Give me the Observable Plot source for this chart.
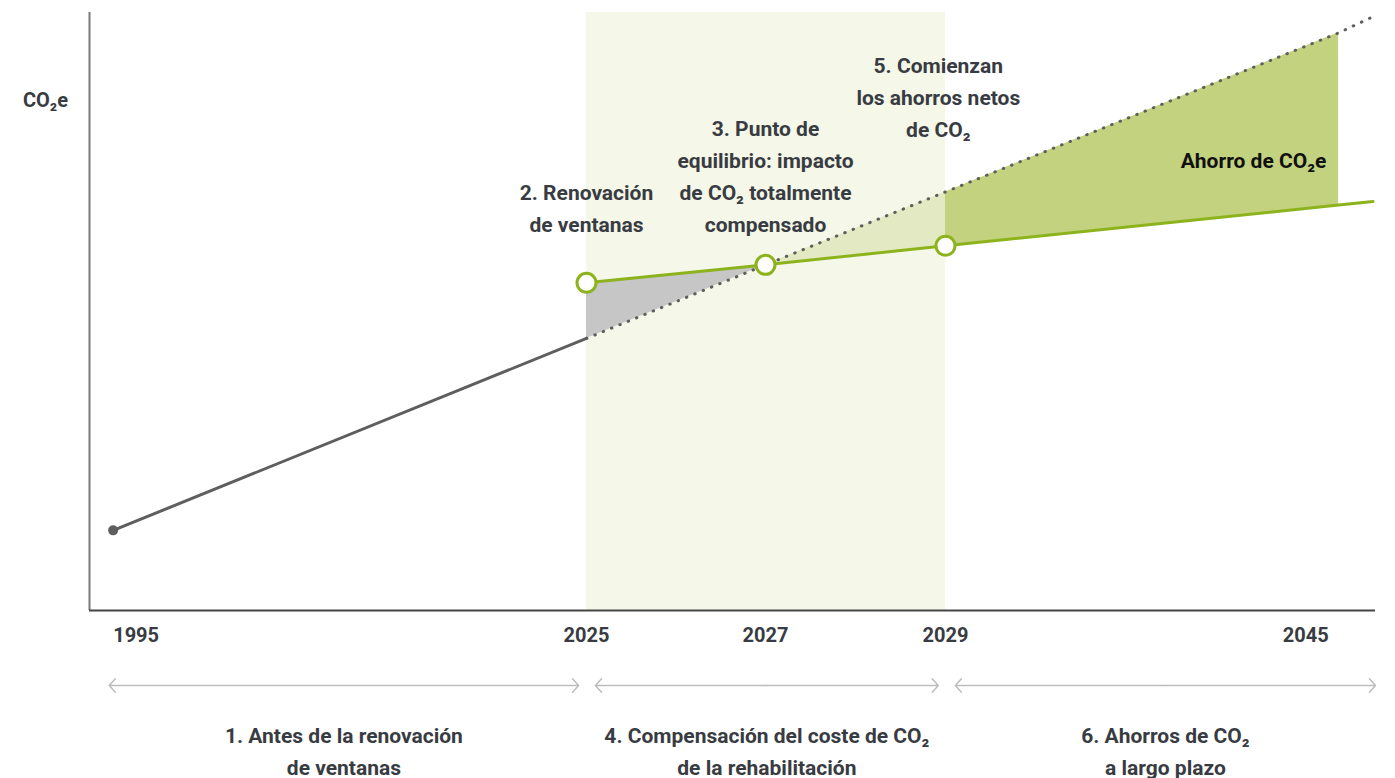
<!DOCTYPE html>
<html>
<head>
<meta charset="utf-8">
<script src="https://cdn.jsdelivr.net/npm/d3@7"></script>
<script src="https://cdn.jsdelivr.net/npm/@observablehq/plot@0.6"></script>
<style>
  html, body { margin: 0; padding: 0; background: #fff; }
  #chart svg { display: block; }
</style>
</head>
<body>
<div id="chart"></div>
<script>
// ---- data (arbitrary CO2e units) ----
const tickYears = [1995, 2025, 2027, 2029, 2045];

const beforeYears = [1995, 2025];
const beforeValues = [13.4, 45.5];

const projectionYears = [2025, 2027, 2029, 2045, 2046.5];
const projectionValues = [45.5, 57.8, 70.0, 96.6, 99.5];

const renovatedYears = [2025, 2027, 2029, 2045, 2046.4];
const renovatedValues = [54.8, 57.8, 61.0, 67.8, 68.4];

const milestoneYears = [2025, 2027, 2029];

const annotationYears = [2025, 2027, 2028.92];
const annotationValues = [67.7, 73.0, 86.3];
const annotationLabels = [
  "2. Renovación\nde ventanas",
  "3. Punto de\nequilibrio: impacto\nde CO₂ totalmente\ncompensado",
  "5. Comienzan\nlos ahorros netos\nde CO₂"
];

const savingsLabel = "Ahorro de CO₂e";
const savingsYear = 2044.5;
const savingsValue = 75.2;

const phaseStarts = [1994.75, 2025.1, 2029.4];
const phaseEnds = [2024.5, 2028.92, 2046.5];
const phaseLabels = [
  "1. Antes de la renovación\nde ventanas",
  "4. Compensación del coste de CO₂\nde la rehabilitación",
  "6. Ahorros de CO₂\na largo plazo"
];

const bandStart = 2025, bandEnd = 2029;
const yLabel = "CO₂e";

// The time axis is not linear: each period gets its own stretch of the axis.
const axisBreaks = [1993.5, 2025, 2027, 2029, 2046.5];
const axisStretch = [0, 497, 676, 856, 1286];
const pos = d3.scaleLinear().domain(axisBreaks).range(axisStretch);

// ---- derived tables ----
const projAt = y => projectionValues[projectionYears.indexOf(y)];
const renAt = y => renovatedValues[renovatedYears.indexOf(y)];
const seg = (a, b) => [a, b].map(yr => ({t: pos(yr), proj: projAt(yr), ren: renAt(yr)}));
const graySeg = seg(2025, 2027);
const lightSeg = seg(2027, 2029);
const darkSeg = seg(2029, 2045);

const before = beforeYears.map((y, i) => ({t: pos(y), v: beforeValues[i]}));
const projection = projectionYears.map((y, i) => ({t: pos(y), v: projectionValues[i]}));
const renovated = renovatedYears.map((y, i) => ({t: pos(y), v: renovatedValues[i]}));
const milestones = milestoneYears.map(y => ({t: pos(y), v: renAt(y)}));
const annotations = annotationLabels.map((s, i) => ({t: pos(annotationYears[i]), v: annotationValues[i], label: s}));
const phases = phaseLabels.map((s, i) => ({mid: (pos(phaseStarts[i]) + pos(phaseEnds[i])) / 2, label: s}));
const phaseArrows = phaseLabels.flatMap((s, i) => {
  const a = pos(phaseStarts[i]), b = pos(phaseEnds[i]), m = (a + b) / 2;
  return [{from: m, to: a}, {from: m, to: b}];
});
const ticks = tickYears.map(y => ({t: pos(y), label: String(y)}));

const textColor = "#383c42";
const font = "Roboto, 'Open Sans', sans-serif";
const green = "#8db31c";
const grayLine = "#5e5e5e";
const fs = 21;

const chart = Plot.plot({
  width: 1395,
  height: 778,
  marginTop: 12,
  marginBottom: 168,
  marginLeft: 89,
  marginRight: 20,
  style: {fontFamily: font, background: "#fff", overflow: "visible"},
  x: {domain: [axisStretch[0], axisStretch[axisStretch.length - 1]], axis: null},
  y: {domain: [0, 100], axis: null},
  marks: [
    // compensation band
    Plot.rect([{x1: pos(bandStart), x2: pos(bandEnd)}], {x1: "x1", x2: "x2", y1: 0, y2: 100, fill: "#f5f7e8"}),
    // areas
    Plot.areaY(graySeg, {x: "t", y1: "proj", y2: "ren", fill: "#c6c6c6"}),
    Plot.areaY(lightSeg, {x: "t", y1: "ren", y2: "proj", fill: "#e3eac3"}),
    Plot.areaY(darkSeg, {x: "t", y1: "ren", y2: "proj", fill: "#c3d27e"}),
    // axes lines
    Plot.ruleX([0], {y1: 0, y2: 100, stroke: "#7a7a7a", strokeWidth: 2}),
    Plot.ruleY([0], {stroke: "#454545", strokeWidth: 2}),
    // lines
    Plot.line(projection, {x: "t", y: "v", stroke: grayLine, strokeWidth: 3, strokeDasharray: "0.5,8.5", strokeLinecap: "round"}),
    Plot.line(before, {x: "t", y: "v", stroke: grayLine, strokeWidth: 3}),
    Plot.dot(before.slice(0, 1), {x: "t", y: "v", r: 5, fill: grayLine, stroke: "none"}),
    Plot.line(renovated, {x: "t", y: "v", stroke: green, strokeWidth: 3}),
    Plot.dot(milestones, {x: "t", y: "v", r: 9.5, fill: "#fff", stroke: green, strokeWidth: 3}),
    // annotations
    Plot.text(annotations, {x: "t", y: "v", text: "label", fontSize: fs, fontWeight: 700, fill: textColor, lineHeight: 32 / fs, lineAnchor: "middle"}),
    Plot.text([savingsLabel], {x: pos(savingsYear), y: savingsValue, text: d => d, textAnchor: "end", fontSize: fs, fontWeight: 700, fill: "#111"}),
    // y label
    Plot.text([yLabel], {frameAnchor: "left", y: 85.3, text: d => d, dx: -44, textAnchor: "middle", fontSize: 20, fontWeight: 700, fill: textColor}),
    // tick labels
    Plot.text(ticks.slice(0, 1), {x: "t", y: 0, text: "label", dy: 25, textAnchor: "start", fontSize: 20, fontWeight: 700, fill: textColor}),
    Plot.text(ticks.slice(1, 4), {x: "t", y: 0, text: "label", dy: 25, fontSize: 20, fontWeight: 700, fill: textColor}),
    Plot.text(ticks.slice(4), {x: "t", y: 0, text: "label", dy: 25, dx: -10, textAnchor: "end", fontSize: 20, fontWeight: 700, fill: textColor}),
    // phase arrows
    Plot.arrow(phaseArrows, {x1: "from", x2: "to", y1: 0, y2: 0, dy: 75, stroke: "#bdbdbd", strokeWidth: 1.5, headAngle: 95, headLength: 9}),
    Plot.text(phases, {x: "mid", y: 0, text: "label", dy: 138, fontSize: fs, fontWeight: 700, fill: textColor, lineHeight: 32 / fs, lineAnchor: "middle"})
  ]
});
document.getElementById("chart").appendChild(chart);
</script>
</body>
</html>
